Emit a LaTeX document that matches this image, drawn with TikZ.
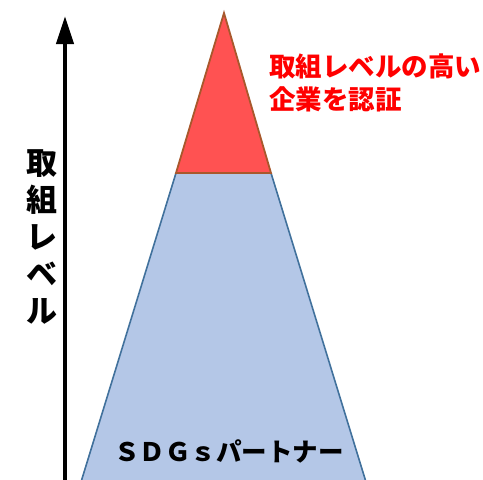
\documentclass[tikz,border=0pt]{standalone}
\usepackage{fontspec}
\newfontfamily\cjk{Noto Sans CJK JP}
\usetikzlibrary{arrows.meta}
\definecolor{redfill}{HTML}{FF5252}
\definecolor{redline}{HTML}{A8582C}
\definecolor{bluefill}{HTML}{B4C7E7}
\definecolor{blueline}{HTML}{41719C}
\definecolor{redtext}{HTML}{FF0000}
\begin{document}
\begin{tikzpicture}[x=1pt,y=-1pt,
  lbl/.style={font=\cjk\bfseries, inner sep=0pt}]
\useasboundingbox (0,0) rectangle (483,480);
% trapezoid
\coordinate (apex) at (224,13);
\coordinate (rl) at (176,173);
\coordinate (rr) at (271,173);
\coordinate (bl) at (81,482);
\coordinate (br) at (366,482);
\fill[bluefill] (rl) -- (rr) -- (br) -- (bl) -- cycle;
\draw[blueline, line width=1.6pt] (rl) -- (bl);
\draw[blueline, line width=1.6pt] (rr) -- (br);
\filldraw[fill=redfill, draw=redline, line width=1.8pt, line join=miter] (apex) -- (rr) -- (rl) -- cycle;
% arrow
\coordinate (abot) at (65,482);
\coordinate (atop) at (65,16);
\draw[line width=4pt, -{Triangle[width=17pt,length=28pt]}] (abot) -- (atop);
% texts
\node[lbl, anchor=west, text=redtext, font=\cjk\bfseries\fontsize{26.5}{33}\selectfont, align=left] (t1) at (269,83) {取組レベルの高い\\企業を認証};
\node[lbl, font=\cjk\bfseries\fontsize{31}{37}\selectfont, align=center] (t2) at (42,237) {取\\組\\レ\\ベ\\ル};
\node[lbl, font=\cjk\bfseries\fontsize{25.5}{28}\selectfont] (t3) at (229,451) {ＳＤＧｓパートナー};
\end{tikzpicture}
\end{document}
